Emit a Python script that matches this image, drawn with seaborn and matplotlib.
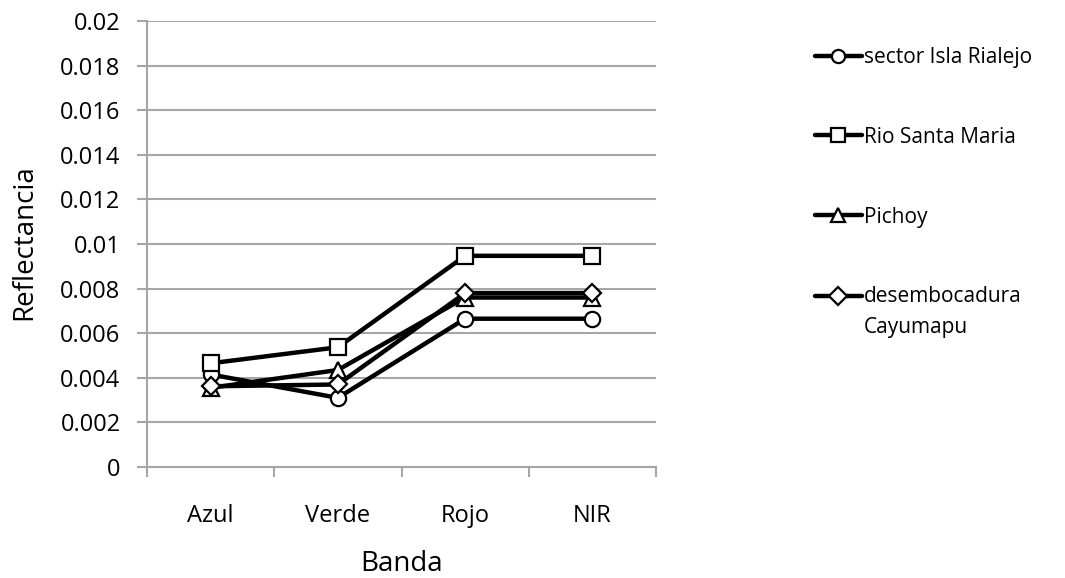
import numpy as np
import pandas as pd
import matplotlib
matplotlib.use("Agg")
import matplotlib.pyplot as plt
import seaborn as sns
from matplotlib.legend_handler import HandlerLine2D

bands = ["Azul", "Verde", "Rojo", "NIR"]
isla_rialejo = [0.00415, 0.0031, 0.00665, 0.00665]
rio_santa_maria = [0.00465, 0.00537, 0.00947, 0.00947]
pichoy = [0.00355, 0.00435, 0.0076, 0.0076]
cayumapu = [0.00362, 0.0037, 0.0078, 0.0078]
series_names = ["sector Isla Rialejo", "Rio Santa Maria", "Pichoy",
                "desembocadura\nCayumapu"]
yticks = np.arange(0, 0.0201, 0.002)

sns.set_theme(style="white")
plt.rcParams["font.family"] = ["Open Sans", "DejaVu Sans"]
plt.rcParams["text.color"] = "black"
plt.rcParams["axes.labelcolor"] = "black"
plt.rcParams["xtick.labelcolor"] = "black"
plt.rcParams["ytick.labelcolor"] = "black"

df = pd.DataFrame({
    "Banda": bands * 4,
    "x": list(range(4)) * 4,
    "Reflectancia": isla_rialejo + rio_santa_maria + pichoy + cayumapu,
    "serie": sum([[n] * 4 for n in series_names], []),
})

fig = plt.figure(figsize=(10.65, 5.78), dpi=100)
ax = fig.add_axes([147 / 1065, 1 - 467 / 578, 509 / 1065, 446 / 578])

markers = ["o", "s", "^", "D"]
msizes = [11, 11, 11, 9]
for name, m, ms in zip(series_names, markers, msizes):
    sub = df[df["serie"] == name]
    sns.lineplot(data=sub, x="x", y="Reflectancia", ax=ax, color="black",
                 linewidth=3.2, marker=m, markersize=ms, markerfacecolor="white",
                 markeredgecolor="black", markeredgewidth=1.6, label=name,
                 legend=False)

grid_c = "#a6a6a6"
ax.set_xlim(-0.5, 3.5)
ax.set_ylim(0, 0.02)
ax.set_yticks(yticks)
ax.set_yticklabels([f"{v:g}" if v > 0 else "0" for v in np.round(yticks, 4)])
ax.set_xticks(range(4))
ax.set_xticklabels(bands)
ax.set_xticks(np.arange(-0.5, 3.6, 1), minor=True)
ax.tick_params(axis="x", which="major", length=0, pad=27, labelsize=17)
ax.tick_params(axis="x", which="minor", length=7, width=1.5, color=grid_c,
               direction="out", bottom=True)
ax.tick_params(axis="y", length=7, width=1.5, color=grid_c, pad=12,
               labelsize=17, left=True)
ax.yaxis.grid(True, color=grid_c, linewidth=1.5)
ax.xaxis.grid(False)
ax.set_axisbelow(True)
for s in ["top", "right"]:
    ax.spines[s].set_visible(False)
for s in ["left", "bottom"]:
    ax.spines[s].set_color(grid_c)
    ax.spines[s].set_linewidth(1.5)

ax.set_xlabel("Banda", fontsize=20)
ax.set_ylabel("Reflectancia", fontsize=20)
ax.xaxis.set_label_coords(0.5, -0.185)
ax.yaxis.set_label_coords(-0.214, 0.504)


class ShiftedHandler(HandlerLine2D):
    def __init__(self, dy=0.0, **kw):
        super().__init__(**kw)
        self.dy = dy

    def create_artists(self, legend, orig_handle, xdescent, ydescent, width,
                       height, fontsize, trans):
        arts = super().create_artists(legend, orig_handle, xdescent, ydescent,
                                      width, height, fontsize, trans)
        for a in arts:
            a.set_ydata(np.asarray(a.get_ydata()) + self.dy * fontsize)
        return arts


handles, labels = ax.get_legend_handles_labels()
handler_map = {handles[-1]: ShiftedHandler(dy=0.79, numpoints=1)}
leg = fig.legend(handles, labels, loc="upper left",
                 bbox_to_anchor=(815 / 1065, 1 - 47 / 578), frameon=False,
                 fontsize=15, labelspacing=2.82, handlelength=2.25,
                 handletextpad=0.1, borderaxespad=0, borderpad=0,
                 handler_map=handler_map)
leg.get_texts()[-1].set_linespacing(1.6)
for line in leg.get_lines():
    line.set_markersize(9.5)

fig.savefig("out.png", dpi=100)
